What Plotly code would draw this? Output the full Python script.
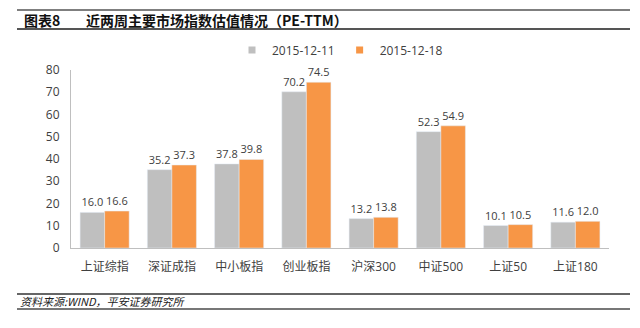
import plotly.graph_objects as go

categories = ["上证综指", "深证成指", "中小板指", "创业板指", "沪深300", "中证500", "上证50", "上证180"]
series_names = ["2015-12-11", "2015-12-18"]
values_1211 = [16.0, 35.2, 37.8, 70.2, 13.2, 52.3, 10.1, 11.6]
values_1218 = [16.6, 37.3, 39.8, 74.5, 13.8, 54.9, 10.5, 12.0]
y_ticks = [0, 10, 20, 30, 40, 50, 60, 70, 80]

colors = ["#BFBFBF", "#F79646"]
font_main = "Open Sans, Noto Sans CJK SC, sans-serif"
text_color = "#404040"

fig = go.Figure()
for name, vals, col in zip(series_names, [values_1211, values_1218], colors):
    fig.add_trace(go.Bar(
        x=categories, y=vals, name=name, marker_color=col,
        text=[f"{v:.1f}" for v in vals], textposition="outside",
        textfont=dict(size=11, color=text_color, family=font_main),
        cliponaxis=False, showlegend=False,
    ))
# legend entries with small square symbols
for name, col in zip(series_names, colors):
    fig.add_trace(go.Scatter(
        x=[categories[0]], y=[None], mode="markers", name=name,
        marker=dict(symbol="square", size=7, color=col), showlegend=True,
    ))

W, H = 640, 328
ml, mr, mt, mb = 71, 31, 70, 80

def py(y):
    return 1 - y / H

fig.update_layout(
    width=W, height=H,
    margin=dict(l=ml, r=mr, t=mt, b=mb, autoexpand=False),
    paper_bgcolor="white", plot_bgcolor="white",
    barmode="group", bargap=0.27, bargroupgap=0,
    font=dict(family=font_main, size=12, color=text_color),
    showlegend=True,
    legend=dict(orientation="h", x=0.5, xref="paper", xanchor="center",
                y=py(50), yref="container", yanchor="middle",
                font=dict(size=12, color=text_color), itemwidth=30,
                tracegroupgap=0),
    xaxis=dict(showline=True, linecolor="#BFBFBF", linewidth=1, ticks="",
               tickfont=dict(size=12, color=text_color), showgrid=False,
               ticklabelstandoff=8),
    yaxis=dict(range=[0, 80], tickvals=y_ticks, showline=True, linecolor="#BFBFBF",
               linewidth=1, showgrid=False, zeroline=False, ticks="",
               tickfont=dict(size=12, color=text_color), ticklabelstandoff=8),
)

shapes = []
for y, w, c in [(10, 1.5, "#555555"), (29, 2, "#555555"), (294, 1.5, "#333333"), (309, 2, "#777777")]:
    shapes.append(dict(type="line", xref="paper", yref="paper",
                       x0=(17 - ml) / (W - ml - mr), x1=(630 - ml) / (W - ml - mr),
                       y0=(H - mb - y) / (H - mt - mb), y1=(H - mb - y) / (H - mt - mb),
                       line=dict(color=c, width=w)))
fig.update_layout(shapes=shapes)

def ann(text, x, y, size, bold=False, italic=False, color="#000000"):
    t = text
    if bold:
        t = f"<b>{t}</b>"
    if italic:
        t = f"<i>{t}</i>"
    fig.add_annotation(text=t, xref="paper", yref="paper",
                       x=(x - ml) / (W - ml - mr), y=(H - mb - y) / (H - mt - mb),
                       xanchor="left", yanchor="middle", showarrow=False,
                       font=dict(size=size, color=color, family="Noto Sans CJK SC, sans-serif"))

ann("图表8", 22, 20, 14, bold=True, color="#111111")
ann("近两周主要市场指数估值情况（PE-TTM）", 84, 20, 14, bold=True, color="#111111")
ann("资料来源:WIND，平安证券研究所", 18, 301, 11, italic=True, color="#222222")

fig.write_html("out.html")
